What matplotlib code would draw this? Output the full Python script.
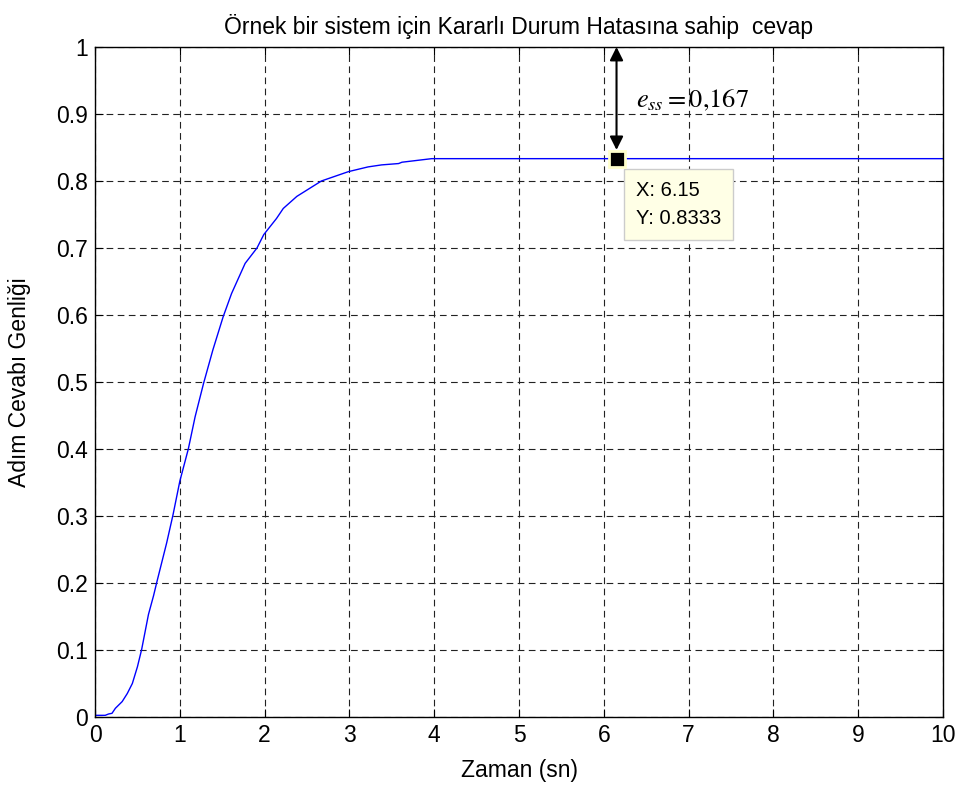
import numpy as np
import matplotlib.pyplot as plt

plt.rcParams['font.family'] = ['Liberation Sans', 'DejaVu Sans']
plt.rcParams['mathtext.fontset'] = 'stix'

# step response
t = [0, 0.12, 0.16, 0.2, 0.24, 0.32, 0.38, 0.44, 0.50, 0.55, 0.59, 0.63, 0.69,
     0.73, 0.845, 0.92, 1.0, 1.10, 1.18, 1.28, 1.39, 1.51, 1.61, 1.77, 1.91,
     1.99, 2.14, 2.22, 2.38, 2.67, 2.83, 2.99, 3.22, 3.38, 3.58, 3.62, 3.97, 10.0]
y = [0.0025, 0.0025, 0.0045, 0.0055, 0.013, 0.023, 0.035, 0.05, 0.075, 0.101,
     0.127, 0.153, 0.181, 0.202, 0.26, 0.302, 0.352, 0.4, 0.448, 0.498, 0.548,
     0.597, 0.632, 0.677, 0.7, 0.72, 0.744, 0.759, 0.777, 0.80, 0.807, 0.814,
     0.821, 0.824, 0.826, 0.828, 0.8333, 0.8333]

tip_x = 6.15
tip_y = 0.8333
ess_label = r'$e_{ss} = 0{,}167$'

title = 'Örnek bir sistem için Kararlı Durum Hatasına sahip  cevap'
xlabel = 'Zaman (sn)'
ylabel = 'Adım Cevabı Genliği'

fig = plt.figure(figsize=(9.59, 7.92), dpi=100)
ax = fig.add_axes([0.0991, 0.0947, 0.8842, 0.846])

ax.plot(t, y, color='#0000ff', lw=1.0)
ax.set_xlim(0, 10)
ax.set_ylim(0, 1)
ax.set_xticks(np.arange(0, 11, 1))
ax.set_yticks(np.round(np.arange(0, 1.01, 0.1), 1))
ax.set_yticklabels(['0'] + ['%.1f' % v for v in np.arange(0.1, 0.95, 0.1)] + ['1'])
ax.grid(True, color='#222222', linestyle=(0, (6, 4)), lw=0.8)
ax.tick_params(direction='in', top=True, right=True, labelsize=16.5, length=6,
               width=0.8, pad=5)
for s in ax.spines.values():
    s.set_linewidth(1.0)

ax.set_title(title, fontsize=16.5, pad=9)
ax.set_xlabel(xlabel, fontsize=16.5, labelpad=9)
ax.set_ylabel(ylabel, fontsize=16.5, labelpad=18)

# data tip
ax.plot([tip_x], [tip_y], marker='s', ms=11.5, mfc='black', mec='#ffffcc', mew=2, zorder=5)
ax.annotate('X: %.2f\nY: %.4f' % (tip_x, tip_y), xy=(tip_x, tip_y), xytext=(14, -16),
            textcoords='offset points', ha='left', va='top', fontsize=14.5, linespacing=1.6,
            bbox=dict(boxstyle='square,pad=0.6', fc='#ffffe6', ec='#cccccc', lw=1))

# e_ss arrow
ax.annotate('', xy=(tip_x, 1.0), xytext=(tip_x, tip_y + 0.013),
            arrowprops=dict(arrowstyle='<|-|>', color='black', lw=1.5,
                            mutation_scale=20, shrinkA=0, shrinkB=0))
ax.text(6.38, 0.92, ess_label, fontsize=19, ha='left', va='center')

fig.savefig('out.png', dpi=100)
